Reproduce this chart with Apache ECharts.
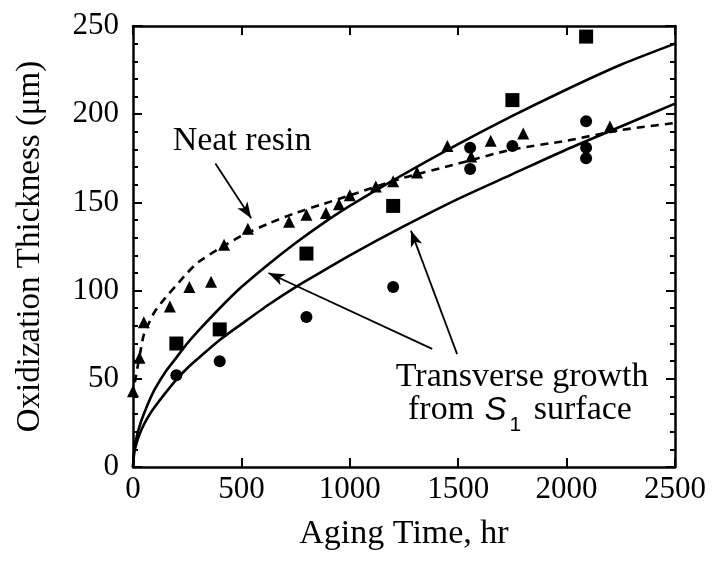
<!DOCTYPE html>
<html>
<head>
<meta charset="utf-8">
<script src="https://cdn.jsdelivr.net/npm/echarts@6/dist/echarts.min.js"></script>
<style>
  html, body { margin: 0; padding: 0; background: #fff; }
  #chart { width: 714px; height: 562px; }
</style>
</head>
<body>
<div id="chart"></div>
<script>
// Square specimens
const squareTime = [200, 400, 800, 1200, 1750, 2090];
const squareThick = [70, 78, 121, 148, 208, 244];

// Circle specimens
const circleTime = [200, 400, 800, 1200, 1555, 1555, 1750, 2090, 2090, 2090];
const circleThick = [52, 60, 85, 102, 181, 169, 182, 196, 181, 175];

// Neat resin (triangles)
const triangleTime = [0, 30, 50, 170, 260, 360, 420, 530, 720, 800, 890, 950, 1000, 1120, 1200, 1310, 1450, 1560, 1650, 1800, 2200];
const triangleThick = [43, 62, 82, 91, 102, 105, 126, 135, 139, 143, 144, 149, 154, 159, 162, 167, 182, 176, 185, 189, 193];

// Fitted curves, sampled along the time axis
const curveTime = [0, 5, 10, 20, 35, 50, 75, 100, 150, 200, 250, 300, 400, 500, 625, 750, 875, 1000, 1250, 1500, 1750, 2000, 2250, 2500];
const upperFit = [0, 9, 13, 18.6, 25, 30, 37.5, 44, 54, 62, 70, 77, 90, 102, 115, 127, 138, 148, 166, 183, 199, 214, 228, 240];
const lowerFit = [0, 7.4, 10.5, 15, 20, 24, 29.5, 34, 42, 49.5, 56, 61.5, 72, 81, 92, 102, 111, 120, 136.5, 152, 166, 180, 193, 206];
const resinFit = [40, 45, 49, 56, 66, 75, 82, 88, 96, 103, 110, 116, 124, 131, 138, 144, 149, 154, 164, 172, 180, 185, 191, 195];

// Axis ranges and ticks
const xTicks = { min: 0, max: 2500, interval: 500 };
const yTicks = { min: 0, max: 250, interval: 50 };

const FONT = '"Liberation Serif", "Times New Roman", serif';
const INK = '#000';

const pair = (xs, ys) => xs.map((x, i) => [x, ys[i]]);

const axisBase = {
  type: 'value',
  axisLine: { show: true, onZero: false, lineStyle: { color: INK, width: 2.5 } },
  axisTick: { show: true, inside: true, length: 9, lineStyle: { color: INK, width: 2 } },
  splitLine: { show: false }
};

const plainNumber = (v) => String(v);

function arrow(from, to) {
  return [
    { coord: from, symbol: 'none' },
    { coord: to, symbol: 'arrow', symbolSize: [9, 16] }
  ];
}

const chart = echarts.init(document.getElementById('chart'));

const fitLine = (values, dashed) => ({
  type: 'line', data: pair(curveTime, values), smooth: 0.25, showSymbol: false,
  lineStyle: { color: INK, width: 2.6, type: dashed ? [8, 6] : 'solid' }, z: 3
});

const upperSeries = fitLine(upperFit, false);
upperSeries.markLine = {
  silent: true, animation: false,
  lineStyle: { color: INK, width: 1.8, type: 'solid' },
  label: { show: false },
  data: [
    arrow([380, 172], [545, 141]),
    arrow([1380, 67], [625, 110]),
    arrow([1495, 64], [1282, 134])
  ]
};

const option = {
  animation: false,
  backgroundColor: '#fff',
  grid: { left: 133, right: 39, top: 26, bottom: 95 },
  xAxis: [
    Object.assign({}, axisBase, {
      position: 'bottom', min: xTicks.min, max: xTicks.max, interval: xTicks.interval,
      name: 'Aging Time, hr', nameLocation: 'middle', nameGap: 50,
      nameTextStyle: { fontFamily: FONT, fontSize: 34, color: INK },
      axisLabel: { fontFamily: FONT, fontSize: 31, color: INK, margin: 7, formatter: plainNumber }
    }),
    Object.assign({}, axisBase, {
      position: 'top', min: xTicks.min, max: xTicks.max, interval: xTicks.interval,
      axisLabel: { show: false }
    })
  ],
  yAxis: [
    Object.assign({}, axisBase, {
      position: 'left', min: yTicks.min, max: yTicks.max, interval: yTicks.interval,
      name: 'Oxidization Thickness (\u03BCm)', nameLocation: 'middle', nameGap: 86,
      nameTextStyle: { fontFamily: FONT, fontSize: 33, color: INK },
      minorTick: { show: true, splitNumber: 5, length: 5, lineStyle: { color: INK, width: 2 } },
      axisLabel: { fontFamily: FONT, fontSize: 31, color: INK, margin: 14, formatter: plainNumber }
    }),
    Object.assign({}, axisBase, {
      position: 'right', min: yTicks.min, max: yTicks.max, interval: yTicks.interval,
      minorTick: { show: true, splitNumber: 5, length: 5, lineStyle: { color: INK, width: 2 } },
      axisLabel: { show: false }
    })
  ],
  series: [
    upperSeries,
    fitLine(lowerFit, false),
    fitLine(resinFit, true),
    {
      type: 'scatter', data: pair(squareTime, squareThick), symbol: 'rect', symbolSize: 14,
      itemStyle: { color: INK, opacity: 1 }, z: 4
    },
    {
      type: 'scatter', data: pair(circleTime, circleThick), symbol: 'circle', symbolSize: 12,
      itemStyle: { color: INK, opacity: 1 }, z: 4
    },
    {
      type: 'scatter', data: pair(triangleTime, triangleThick), symbol: 'triangle', symbolSize: [12, 12],
      itemStyle: { color: INK, opacity: 1 }, z: 4
    }
  ]
};

chart.setOption(option);

// Annotation text anchored in data space
function place(t, v) { return chart.convertToPixel({ gridIndex: 0 }, [t, v]); }
const neatAt = place(503, 185);
const trAt = place(1795, 51);
const fromAt = place(1785, 32);

chart.setOption({
  graphic: [
    {
      type: 'text', x: neatAt[0], y: neatAt[1], z: 10,
      style: { text: 'Neat resin', font: '34px ' + FONT, fill: INK, align: 'center', verticalAlign: 'middle' }
    },
    {
      type: 'text', x: trAt[0], y: trAt[1], z: 10,
      style: { text: 'Transverse growth', font: '34px ' + FONT, fill: INK, align: 'center', verticalAlign: 'middle' }
    },
    {
      type: 'text', x: fromAt[0], y: fromAt[1], z: 10,
      style: {
        text: '{a|from }{s|S}{sub|1}{a| surface}',
        align: 'center', verticalAlign: 'middle',
        rich: {
          a: { fontFamily: FONT, fontSize: 34, color: INK },
          s: { fontFamily: '"Liberation Sans", Arial, sans-serif', fontStyle: 'italic', fontSize: 33, color: INK, padding: [0, 0, 0, 2] },
          sub: { fontFamily: '"Liberation Sans", Arial, sans-serif', fontSize: 21, color: INK, padding: [30, 4, 0, 3] }
        }
      }
    }
  ]
});
</script>
</body>
</html>
